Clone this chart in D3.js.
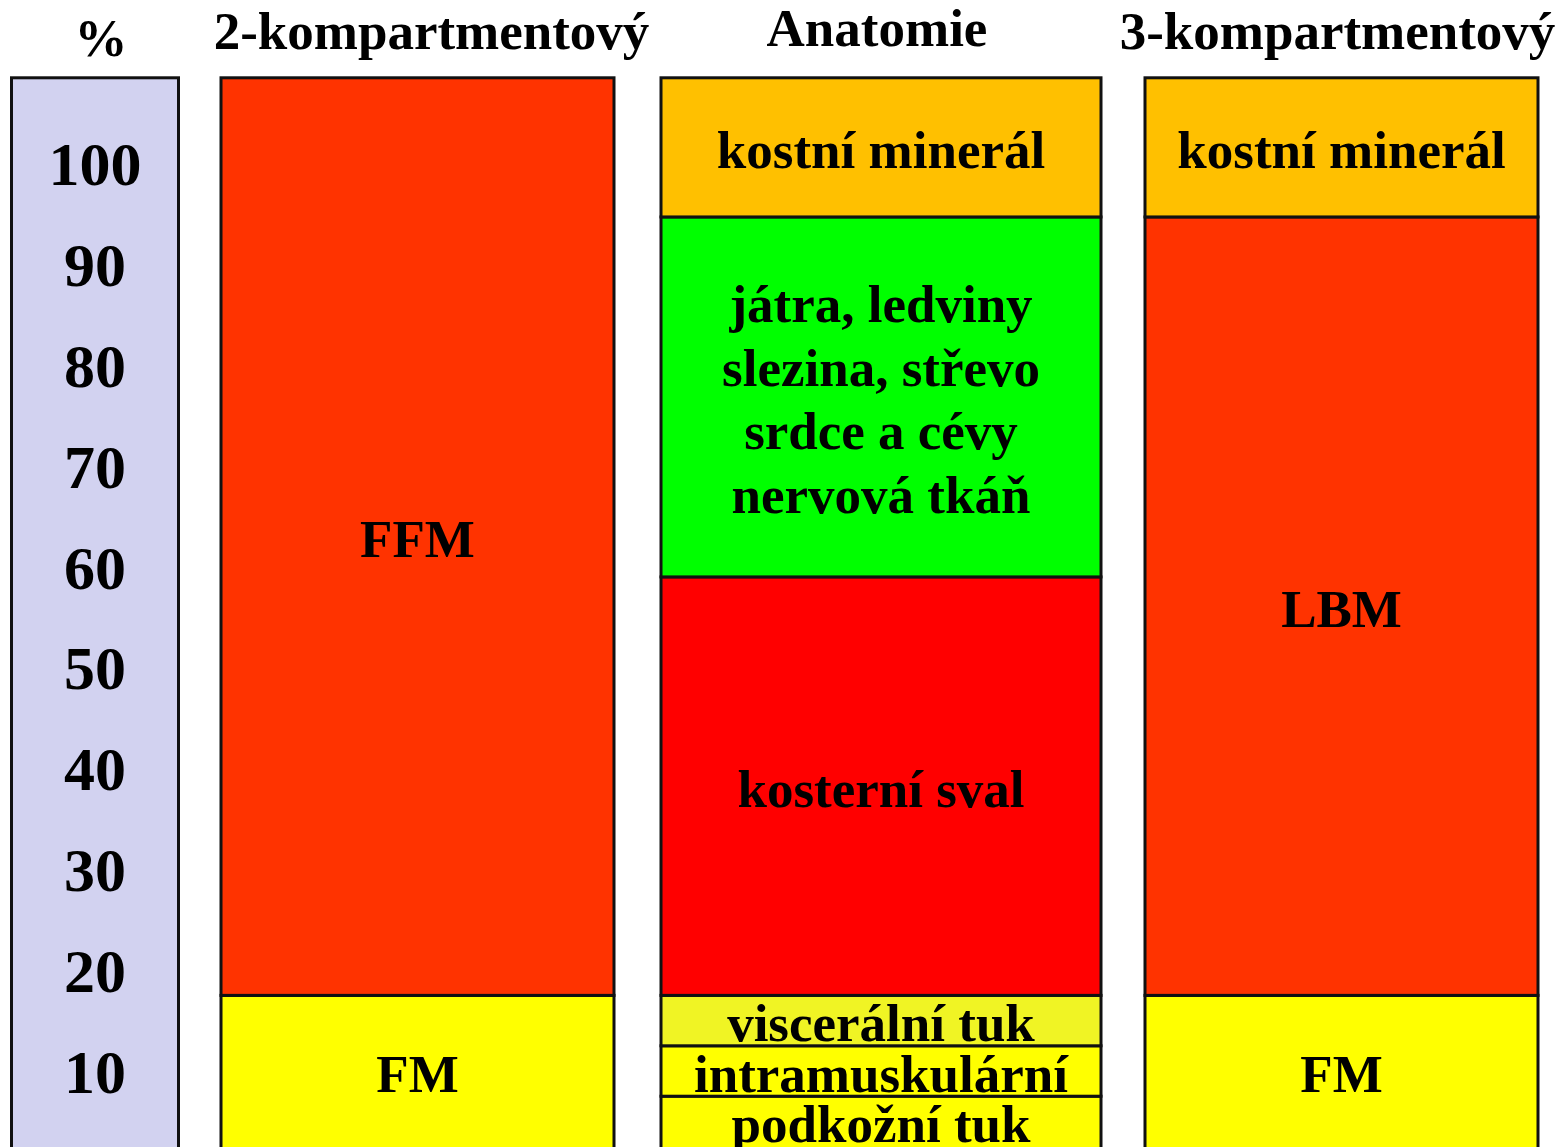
<!DOCTYPE html>
<html>
<head>
<meta charset="utf-8">
<script src="https://cdn.jsdelivr.net/npm/d3@7"></script>
<style>
  body { margin: 0; background: #fff; }
  text { font-family: "Liberation Serif", "Times New Roman", serif; font-weight: bold; fill: #000; }
</style>
</head>
<body>
<div id="chart"></div>
<script>
// Data
const headers = ['%', '2-kompartmentový', 'Anatomie', '3-kompartmentový']
const tickValues = [100, 90, 80, 70, 60, 50, 40, 30, 20, 10]
const columnTop = 108.5

// segments: [from, to] in % , label lines
const twoComp = [
  { from: 0, to: 17.5, lines: ['FM'], color: '#ffff00' },
  { from: 17.5, to: columnTop, lines: ['FFM'], color: '#ff3300' }
]
const anatomy = [
  { from: 0, to: 7.5, lines: ['podkožní tuk'], color: '#ffff00' },
  { from: 7.5, to: 12.5, lines: ['intramuskulární'], color: '#ffff00' },
  { from: 12.5, to: 17.5, lines: ['viscerální tuk'], color: '#f0f424' },
  { from: 17.5, to: 59, lines: ['kosterní sval'], color: '#ff0000' },
  { from: 59, to: 94.7, lines: ['játra, ledviny', 'slezina, střevo', 'srdce a cévy', 'nervová tkáň'], color: '#00ff00' },
  { from: 94.7, to: columnTop, lines: ['kostní minerál'], color: '#ffc000' }
]
const threeComp = [
  { from: 0, to: 17.5, lines: ['FM'], color: '#ffff00' },
  { from: 17.5, to: 94.7, lines: ['LBM'], color: '#ff3300' },
  { from: 94.7, to: columnTop, lines: ['kostní minerál'], color: '#ffc000' }
]

function draw() {
  const width = 1568
  const height = 1147

  const svg = d3.select('#chart')
    .append('svg')
    .attr('width', width)
    .attr('height', height)

  // Scales
  const y = d3.scaleLinear()
    .domain([10, 100])
    .range([1071, 163.5])

  const columns = [
    { x0: 11.5, x1: 178.5, segments: [{ from: 0, to: columnTop, lines: [], color: '#d2d2f0' }] },
    { x0: 221, x1: 614, segments: twoComp },
    { x0: 661, x1: 1101, segments: anatomy },
    { x0: 1145, x1: 1538, segments: threeComp }
  ]
  const headerY = [56, 49, 46, 49]

  // headers
  svg.selectAll('text.header')
    .data(headers)
    .join('text')
    .attr('class', 'header')
    .attr('x', (d, i) => (columns[i].x0 + columns[i].x1) / 2 + (i === 1 ? 14 : i === 0 ? 6 : -4))
    .attr('y', (d, i) => headerY[i])
    .attr('text-anchor', 'middle')
    .style('font-size', '53px')
    .text(d => d)

  // columns
  const col = svg.selectAll('g.col')
    .data(columns)
    .join('g')
    .attr('class', 'col')

  const seg = col.selectAll('g.seg')
    .data(c => c.segments.map(s => ({ ...s, x0: c.x0, x1: c.x1 })))
    .join('g')
    .attr('class', 'seg')

  seg.append('rect')
    .attr('x', d => d.x0)
    .attr('width', d => d.x1 - d.x0)
    .attr('y', d => y(d.to))
    .attr('height', d => y(d.from) - y(d.to))
    .attr('fill', d => d.color)
    .attr('stroke', '#111')
    .attr('stroke-width', 3)

  const lineH = 63.5
  seg.each(function (d) {
    const top = y(d.to)
    const bottom = Math.min(y(d.from), height)
    const mid = (top + bottom) / 2
    const n = d.lines.length
    d3.select(this).selectAll('text')
      .data(d.lines)
      .join('text')
      .attr('x', (d.x0 + d.x1) / 2)
      .attr('y', (l, i) => mid + (i - (n - 1) / 2) * lineH)
      .attr('dy', '0.39em')
      .attr('text-anchor', 'middle')
      .style('font-size', '53px')
      .text(l => l)
  })

  // tick labels in the % column
  svg.selectAll('text.tick')
    .data(tickValues)
    .join('text')
    .attr('class', 'tick')
    .attr('x', (columns[0].x0 + columns[0].x1) / 2)
    .attr('y', d => y(d))
    .attr('dy', '0.35em')
    .attr('text-anchor', 'middle')
    .style('font-size', '62px')
    .text(d => d)
}

draw()
</script>
</body>
</html>
